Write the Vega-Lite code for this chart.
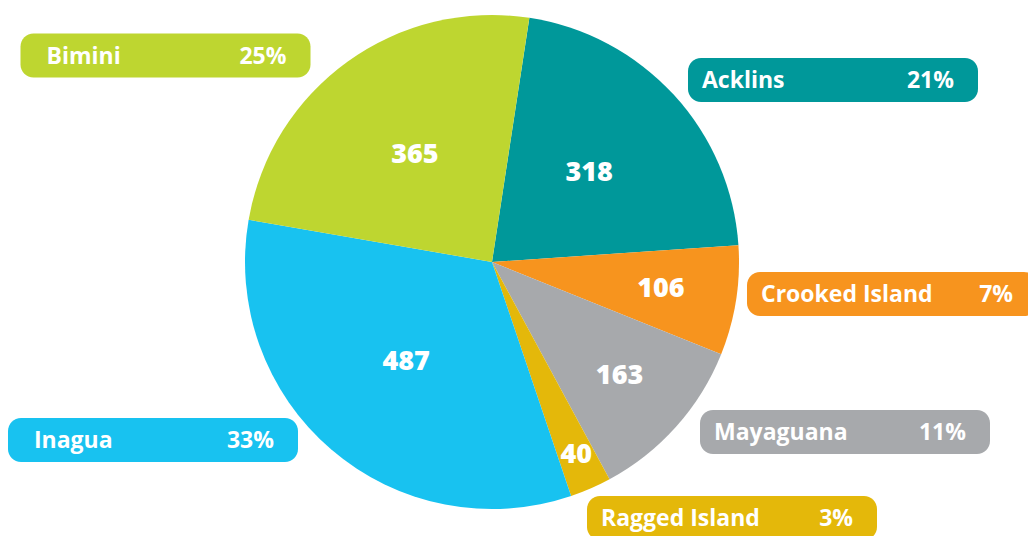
{
  "$schema": "https://vega.github.io/schema/vega-lite/v6.json",
  "width": 984,
  "height": 524,
  "padding": 0,
  "background": "white",
  "view": {"stroke": null},
  "data": {"values": [
    {"island": "Acklins", "value": 318, "pct": "21%"},
    {"island": "Crooked Island", "value": 106, "pct": "7%"},
    {"island": "Mayaguana", "value": 163, "pct": "11%"},
    {"island": "Ragged Island", "value": 40, "pct": "3%"},
    {"island": "Inagua", "value": 487, "pct": "33%"},
    {"island": "Bimini", "value": 365, "pct": "25%"}
  ]},
  "transform": [{"window": [{"op": "row_number", "as": "idx"}]}],
  "encoding": {
    "color": {
      "field": "island", "type": "nominal", "legend": null,
      "scale": {
        "domain": ["Acklins", "Crooked Island", "Mayaguana", "Ragged Island", "Inagua", "Bimini"],
        "range": ["#00989A", "#F7941E", "#A7A9AC", "#E4B80A", "#18C2F0", "#BED630"]
      }
    }
  },
  "layer": [
    {
      "mark": {"type": "arc", "radius": 247, "strokeWidth": 0},
      "encoding": {
        "theta": {"field": "value", "type": "quantitative", "stack": true, "scale": {"range": [0.152, 6.435]}},
        "order": {"field": "idx", "type": "quantitative"}
      }
    },
    {
      "mark": {"type": "text", "radius": 132, "fontSize": 27, "font": "Open Sans", "fontWeight": 800, "baseline": "middle", "align": "center"},
      "encoding": {
        "theta": {"field": "value", "type": "quantitative", "stack": true, "scale": {"range": [0.152, 6.435]}},
        "order": {"field": "idx", "type": "quantitative"},
        "color": {"value": "white"},
        "text": {"condition": {"test": "datum.value > 300", "field": "value", "type": "quantitative"}, "value": ""}
      }
    },
    {
      "mark": {"type": "text", "radius": 171, "fontSize": 27, "font": "Open Sans", "fontWeight": 800, "baseline": "middle", "align": "center"},
      "encoding": {
        "theta": {"field": "value", "type": "quantitative", "stack": true, "scale": {"range": [0.152, 6.435]}},
        "order": {"field": "idx", "type": "quantitative"},
        "color": {"value": "white"},
        "text": {"condition": {"test": "datum.value > 100 && datum.value <= 300", "field": "value", "type": "quantitative"}, "value": ""}
      }
    },
    {
      "mark": {"type": "text", "radius": 211, "fontSize": 27, "font": "Open Sans", "fontWeight": 800, "baseline": "middle", "align": "center"},
      "encoding": {
        "theta": {"field": "value", "type": "quantitative", "stack": true, "scale": {"range": [0.152, 6.435]}},
        "order": {"field": "idx", "type": "quantitative"},
        "color": {"value": "white"},
        "text": {"condition": {"test": "datum.value <= 100", "field": "value", "type": "quantitative"}, "value": ""}
      }
    },
    {
      "mark": {
        "type": "point",
        "shape": "M-0.91,-0.152 L0.91,-0.152 A0.09,0.09 0 0 1 1,-0.062 L1,0.062 A0.09,0.09 0 0 1 0.91,0.152 L-0.91,0.152 A0.09,0.09 0 0 1 -1,0.062 L-1,-0.062 A0.09,0.09 0 0 1 -0.91,-0.152 Z",
        "size": 84100, "filled": true, "opacity": 1, "strokeWidth": 0
      },
      "encoding": {
        "x": {"field": "value", "type": "quantitative", "axis": null,
              "scale": {"domain": [40, 106, 163, 318, 365, 487], "range": [732, 892, 845, 833, 165.5, 153], "nice": false, "zero": false}},
        "y": {"field": "value", "type": "quantitative", "axis": null,
              "scale": {"domain": [40, 106, 163, 318, 365, 487], "range": [518, 294, 432, 80, 55.5, 440], "nice": false, "zero": false}}
      }
    },
    {
      "transform": [{"filter": "datum.island != 'Bimini' && datum.island != 'Inagua'"}],
      "mark": {"type": "text", "align": "left", "baseline": "middle", "dx": -131, "dy": 1, "fontSize": 23, "font": "Open Sans", "fontWeight": "bold"},
      "encoding": {
        "x": {"field": "value", "type": "quantitative", "axis": null,
              "scale": {"domain": [40, 106, 163, 318, 365, 487], "range": [732, 892, 845, 833, 165.5, 153], "nice": false, "zero": false}},
        "y": {"field": "value", "type": "quantitative", "axis": null,
              "scale": {"domain": [40, 106, 163, 318, 365, 487], "range": [518, 294, 432, 80, 55.5, 440], "nice": false, "zero": false}},
        "text": {"field": "island", "type": "nominal"},
        "color": {"value": "white"}
      }
    },
    {
      "transform": [{"filter": "datum.island == 'Bimini' || datum.island == 'Inagua'"}],
      "mark": {"type": "text", "align": "left", "baseline": "middle", "dx": -119, "dy": 1, "fontSize": 23, "font": "Open Sans", "fontWeight": "bold"},
      "encoding": {
        "x": {"field": "value", "type": "quantitative", "axis": null,
              "scale": {"domain": [40, 106, 163, 318, 365, 487], "range": [732, 892, 845, 833, 165.5, 153], "nice": false, "zero": false}},
        "y": {"field": "value", "type": "quantitative", "axis": null,
              "scale": {"domain": [40, 106, 163, 318, 365, 487], "range": [518, 294, 432, 80, 55.5, 440], "nice": false, "zero": false}},
        "text": {"field": "island", "type": "nominal"},
        "color": {"value": "white"}
      }
    },
    {
      "mark": {"type": "text", "align": "right", "baseline": "middle", "dx": 121, "dy": 1, "fontSize": 23, "font": "Open Sans", "fontWeight": "bold"},
      "encoding": {
        "x": {"field": "value", "type": "quantitative", "axis": null,
              "scale": {"domain": [40, 106, 163, 318, 365, 487], "range": [732, 892, 845, 833, 165.5, 153], "nice": false, "zero": false}},
        "y": {"field": "value", "type": "quantitative", "axis": null,
              "scale": {"domain": [40, 106, 163, 318, 365, 487], "range": [518, 294, 432, 80, 55.5, 440], "nice": false, "zero": false}},
        "text": {"field": "pct", "type": "nominal"},
        "color": {"value": "white"}
      }
    }
  ]
}
